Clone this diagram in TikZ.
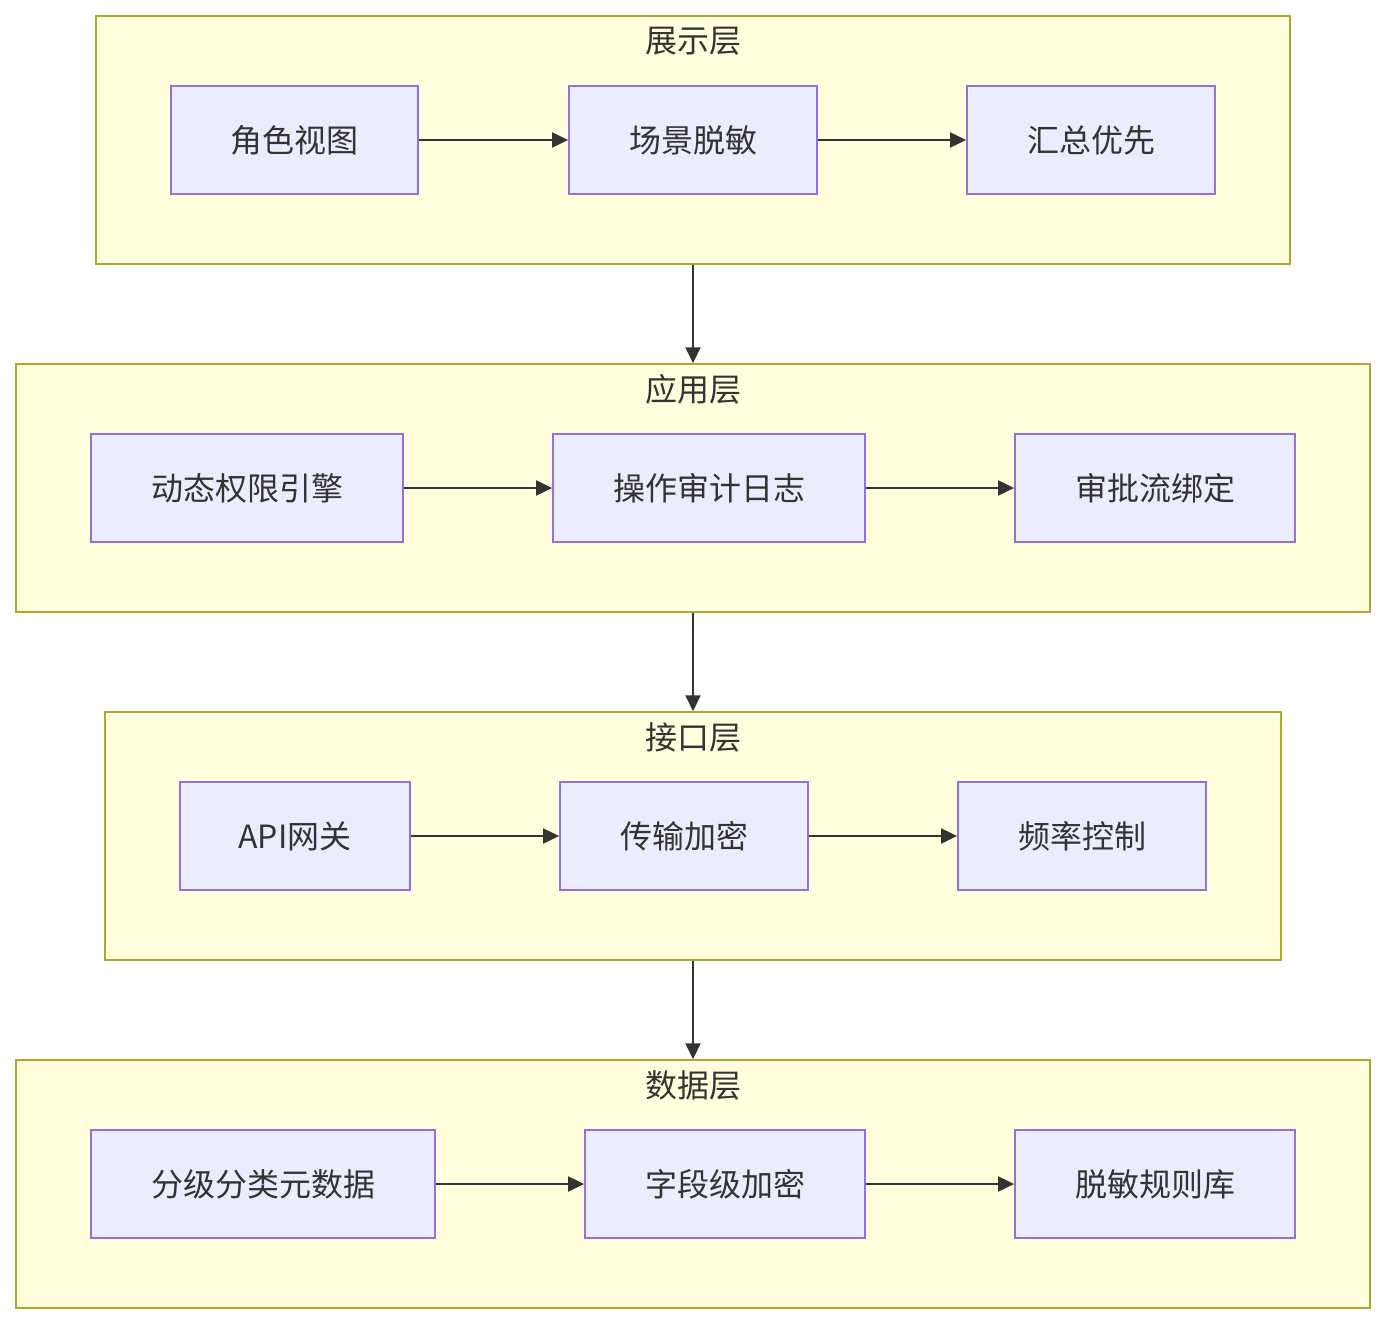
\documentclass[tikz,border=0pt]{standalone}
\usepackage{fontspec}
\setmainfont{Noto Sans CJK SC}
\usepackage{xcolor}
\usetikzlibrary{arrows.meta}
\definecolor{layerfill}{HTML}{FFFFDE}
\definecolor{layerline}{HTML}{AAAA33}
\definecolor{boxfill}{HTML}{ECECFF}
\definecolor{boxline}{HTML}{9370DB}
\definecolor{ink}{HTML}{333333}
\tikzset{
  layer/.style={draw=layerline, fill=layerfill, line width=1.5pt, minimum height=248pt, inner sep=0pt},
  layertitle/.style={text=ink, font=\fontsize{32}{38}\selectfont, inner sep=0pt},
  box/.style={draw=boxline, fill=boxfill, line width=1.8pt, minimum height=108pt, text=ink, font=\fontsize{32}{38}\selectfont, inner sep=0pt},
  flow/.style={draw=ink, line width=2pt, -{Triangle[length=16pt,width=15pt]}}
}
\begin{document}
\begin{tikzpicture}[x=1pt,y=-1pt]
\useasboundingbox[fill=white] (0,0) rectangle (1386,1324);
% layers
\node[layer, minimum width=1194pt] (show) at (693,140) {};
\node[layer, minimum width=1354pt] (app) at (693,488) {};
\node[layer, minimum width=1176pt] (api) at (693,836) {};
\node[layer, minimum width=1354pt] (data) at (693,1184) {};
\node[layertitle] (showt) at (693,41) {展示层};
\node[layertitle] (appt) at (693,389) {应用层};
\node[layertitle] (apit) at (693,737) {接口层};
\node[layertitle] (datat) at (693,1085) {数据层};
% presentation
\node[box, minimum width=247pt] (role) at (294.5,140) {角色视图};
\node[box, minimum width=248pt] (scene) at (693,140) {场景脱敏};
\node[box, minimum width=248pt] (sum) at (1091,140) {汇总优先};
% application
\node[box, minimum width=312pt] (perm) at (247,488) {动态权限引擎};
\node[box, minimum width=312pt] (audit) at (709,488) {操作审计日志};
\node[box, minimum width=280pt] (appr) at (1155,488) {审批流绑定};
% interface
\node[box, minimum width=230pt] (gw) at (295,836) {API网关};
\node[box, minimum width=248pt] (tls) at (684,836) {传输加密};
\node[box, minimum width=248pt] (rate) at (1082,836) {频率控制};
% data
\node[box, minimum width=344pt] (meta) at (263,1184) {分级分类元数据};
\node[box, minimum width=280pt] (field) at (725,1184) {字段级加密};
\node[box, minimum width=280pt] (rules) at (1155,1184) {脱敏规则库};
% arrows
\draw[flow] (role) -- (scene);
\draw[flow] (scene) -- (sum);
\draw[flow] (perm) -- (audit);
\draw[flow] (audit) -- (appr);
\draw[flow] (gw) -- (tls);
\draw[flow] (tls) -- (rate);
\draw[flow] (meta) -- (field);
\draw[flow] (field) -- (rules);
\draw[flow] (show.south) -- (app.north);
\draw[flow] (app.south) -- (api.north);
\draw[flow] (api.south) -- (data.north);
\end{tikzpicture}
\end{document}
